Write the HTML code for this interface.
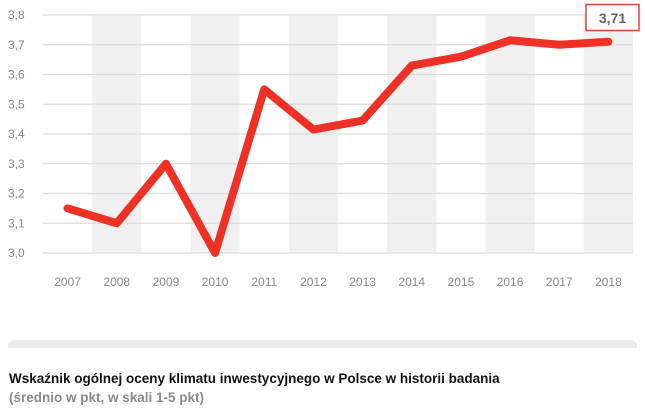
<!DOCTYPE html>
<html><head><meta charset="utf-8"><style>
body{margin:0;width:645px;height:411px;background:#fff;font-family:"Liberation Sans",sans-serif;overflow:hidden}
</style></head><body>
<svg id="chart" width="645" height="411" style="position:absolute;left:0;top:0">
<g id="bands"></g><g id="grid"></g><g id="ylab"></g><g id="xlab"></g><g id="series"></g>
<rect x="586" y="4.5" width="53" height="26" fill="#fff" stroke="#e8403a" stroke-width="1.5"/>
<text id="lastval" x="612.5" y="23" text-anchor="middle" font-size="14" font-weight="bold" fill="#666"></text>
<path d="M8,348 L8,346 Q8,340 16,340 L629,340 Q637,340 637,346 L637,348 Z" fill="#ececec"/>
<text x="9" y="383" font-size="13.5" font-weight="bold" fill="#111">Wskaźnik ogólnej oceny klimatu inwestycyjnego w Polsce w historii badania</text>
<text x="9" y="402" font-size="13.5" font-weight="bold" fill="#8a8a8a">(średnio w pkt, w skali 1-5 pkt)</text>
</svg>
<script>
const years=["2007","2008","2009","2010","2011","2012","2013","2014","2015","2016","2017","2018"];
const values=[3.15,3.10,3.30,3.00,3.55,3.415,3.445,3.63,3.66,3.715,3.70,3.71];
const yTicks=[3.0,3.1,3.2,3.3,3.4,3.5,3.6,3.7,3.8];
const NS="http://www.w3.org/2000/svg";
const x0=43,x1=633,yMin=3.0,yMax=3.8,py0=253,py1=15;
const bw=(x1-x0)/years.length;
const xc=i=>x0+bw*(i+0.5);
const y=v=>py0-(v-yMin)/(yMax-yMin)*(py0-py1);
function mk(t,a,p){const e=document.createElementNS(NS,t);for(const k in a)e.setAttribute(k,a[k]);document.getElementById(p).appendChild(e);return e;}
years.forEach((yr,i)=>{
 if(i%2===1){const r=mk('rect',{x:x0+bw*i,y:py1,width:bw,height:py0-py1,fill:'#f0f0f0'},'bands');
 
 }
 const t=mk('text',{x:xc(i),y:286,'text-anchor':'middle','font-size':'12',fill:'#8a8a8a'},'xlab');t.textContent=yr;
 
 
});
yTicks.forEach(v=>{
 const l=mk('line',{x1:x0,x2:x1,y1:y(v),y2:y(v),stroke:'#dcdcdc','stroke-width':'1.2'},'grid');
 
 
 const t=mk('text',{x:8,y:y(v)+4,'font-size':'12',fill:'#8a8a8a'},'ylab');t.textContent=v.toFixed(1).replace('.',',');
 
 
});
const pl=mk('polyline',{points:values.map((v,i)=>xc(i)+','+y(v)).join(' '),fill:'none',stroke:'#ee3124','stroke-width':'8','stroke-linejoin':'round','stroke-linecap':'round'},'series');


document.getElementById('lastval').textContent=values[values.length-1].toFixed(2).replace('.',',');
</script>
</body></html>
